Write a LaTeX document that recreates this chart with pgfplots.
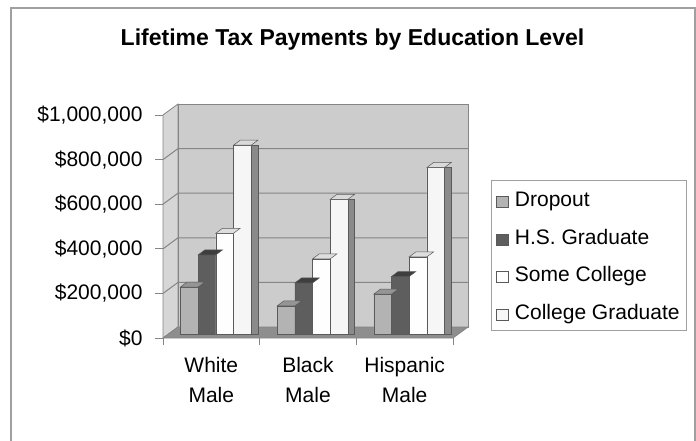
\documentclass[border=0pt]{standalone}
\usepackage{pgfplots}
\pgfplotsset{compat=1.18}
\usepackage{pgfplotstable}
\usepackage{fontspec}
\setmainfont{Liberation Sans}

\definecolor{backwall}{HTML}{CCCCCC}
\definecolor{sidewall}{HTML}{D6D6D6}
\definecolor{floorc}{HTML}{8E8E8E}
\definecolor{gridc}{HTML}{858585}
\definecolor{edgec}{HTML}{5A5A5A}
\definecolor{framec}{HTML}{A0A0A0}
\definecolor{dropc}{HTML}{B3B3B3}
\definecolor{drops}{HTML}{707070}
\definecolor{dropt}{HTML}{959595}
\definecolor{hsc}{HTML}{5E5E5E}
\definecolor{hss}{HTML}{363636}
\definecolor{hst}{HTML}{3E3E3E}
\definecolor{somec}{HTML}{FEFEFE}
\definecolor{somes}{HTML}{8E8E8E}
\definecolor{somet}{HTML}{DEDEDE}
\definecolor{collc}{HTML}{F6F6F6}
\definecolor{colls}{HTML}{8A8A8A}
\definecolor{collt}{HTML}{DADADA}

\pgfplotstableread{
cat drop hs some coll
0 213000 357000 454000 849000
1 128000 231000 339000 606000
2 181000 260000 348000 749000
}\datatable

\pgfdeclareplotmark{topface}{%
  \pgfpathmoveto{\pgfqpoint{-8.85pt}{0pt}}%
  \pgfpathlineto{\pgfqpoint{8.85pt}{0pt}}%
  \pgfpathlineto{\pgfqpoint{15.55pt}{5pt}}%
  \pgfpathlineto{\pgfqpoint{-2.15pt}{5pt}}%
  \pgfpathclose
  \pgfusepathqfillstroke}

\begin{document}
\begin{tikzpicture}
\path[use as bounding box] (0pt,0pt) rectangle (696pt,440pt);
\draw[framec, line width=1.4pt] (11pt,-20pt) -- (11pt,432pt) -- (695pt,432pt) -- (695pt,-20pt);
\node[font=\bfseries\fontsize{23}{27}\selectfont, anchor=base] at (352.5pt,394pt) {Lifetime Tax Payments by Education Level};
\begin{axis}[
  at={(163pt,102pt)}, anchor=south west,
  scale only axis, width=290pt, height=223pt,
  xmin=-0.5, xmax=2.5, ymin=0, ymax=1000000,
  clip=false,
  axis line style={draw=none},
  tick pos=left, tick align=outside,
  major tick length=8pt, minor tick length=7pt,
  tick style={draw=gridc, line width=0.8pt},
  major x tick style={draw=none},
  xtick={0,1,2},
  xticklabels={{White\\Male},{Black\\Male},{Hispanic\\Male}},
  minor xtick={-0.5,0.5,1.5,2.5},
  ytick={0,200000,400000,600000,800000,1000000},
  yticklabels={{\$0},{\$200,000},{\$400,000},{\$600,000},{\$800,000},{\$1,000,000}},
  scaled y ticks=false,
  yticklabel style={font=\fontsize{21}{25}\selectfont, xshift=-9pt},
  xticklabel style={align=center, font=\fontsize{21}{30}\selectfont, yshift=-8pt},
  legend image code/.code={\draw[#1] (0pt,-8pt) rectangle (12pt,3pt);},
  legend cell align=left,
  legend style={draw=framec, line width=1pt, font=\fontsize{21}{25}\selectfont,
    at={(1.131,0.7072)}, anchor=north west, inner xsep=5pt, inner ysep=5pt,
    row sep=10pt, nodes={inner sep=2pt, text height=19pt, text depth=4.5pt},
    /tikz/every odd column/.append style={column sep=4pt}},
]
% walls and floor
\fill[sidewall, draw=gridc, line width=0.8pt] (axis cs:-0.5,0) -- (axis cs:-0.5,1000000) -- ([shift={(15pt,11pt)}]axis cs:-0.5,1000000) -- ([shift={(15pt,11pt)}]axis cs:-0.5,0) -- cycle;
\fill[backwall, draw=gridc, line width=0.8pt] ([shift={(15pt,11pt)}]axis cs:-0.5,0) rectangle ([shift={(15pt,11pt)}]axis cs:2.5,1000000);
\draw[gridc, line width=1pt] (axis cs:-0.5,200000) -- ([shift={(15pt,11pt)}]axis cs:-0.5,200000) -- ([shift={(15pt,11pt)}]axis cs:2.5,200000);
\draw[gridc, line width=1pt] (axis cs:-0.5,400000) -- ([shift={(15pt,11pt)}]axis cs:-0.5,400000) -- ([shift={(15pt,11pt)}]axis cs:2.5,400000);
\draw[gridc, line width=1pt] (axis cs:-0.5,600000) -- ([shift={(15pt,11pt)}]axis cs:-0.5,600000) -- ([shift={(15pt,11pt)}]axis cs:2.5,600000);
\draw[gridc, line width=1pt] (axis cs:-0.5,800000) -- ([shift={(15pt,11pt)}]axis cs:-0.5,800000) -- ([shift={(15pt,11pt)}]axis cs:2.5,800000);
\fill[floorc, draw=gridc, line width=0.8pt] (axis cs:-0.5,0) -- (axis cs:2.5,0) -- ([shift={(15pt,11pt)}]axis cs:2.5,0) -- ([shift={(15pt,11pt)}]axis cs:-0.5,0) -- cycle;

% Dropout
\addplot[ybar, forget plot, bar width=6.7pt, bar shift=-14.35pt, xshift=4.5pt, yshift=3.5pt, fill=drops, draw=edgec, line width=0.5pt] table[x=cat,y=drop]{\datatable};
\addplot[ybar, forget plot, bar width=17.7pt, bar shift=-26.55pt, xshift=4.5pt, yshift=3.5pt, fill=dropc, draw=edgec, line width=0.5pt] table[x=cat,y=drop]{\datatable};
\addplot[only marks, forget plot, mark=topface, xshift=-22.05pt, yshift=3.5pt, mark options={fill=dropt, draw=edgec, line width=0.5pt}] table[x=cat,y=drop]{\datatable};
% HS Graduate
\addplot[ybar, forget plot, bar width=6.7pt, bar shift=3.35pt, xshift=4.5pt, yshift=3.5pt, fill=hss, draw=edgec, line width=0.5pt] table[x=cat,y=hs]{\datatable};
\addplot[ybar, forget plot, bar width=17.7pt, bar shift=-8.85pt, xshift=4.5pt, yshift=3.5pt, fill=hsc, draw=edgec, line width=0.5pt] table[x=cat,y=hs]{\datatable};
\addplot[only marks, forget plot, mark=topface, xshift=-4.35pt, yshift=3.5pt, mark options={fill=hst, draw=edgec, line width=0.5pt}] table[x=cat,y=hs]{\datatable};
% Some College
\addplot[ybar, forget plot, bar width=6.7pt, bar shift=21.05pt, xshift=4.5pt, yshift=3.5pt, fill=somes, draw=edgec, line width=0.5pt] table[x=cat,y=some]{\datatable};
\addplot[ybar, forget plot, bar width=17.7pt, bar shift=8.85pt, xshift=4.5pt, yshift=3.5pt, fill=somec, draw=edgec, line width=0.5pt] table[x=cat,y=some]{\datatable};
\addplot[only marks, forget plot, mark=topface, xshift=13.35pt, yshift=3.5pt, mark options={fill=somet, draw=edgec, line width=0.5pt}] table[x=cat,y=some]{\datatable};
% College Graduate
\addplot[ybar, forget plot, bar width=6.7pt, bar shift=38.75pt, xshift=4.5pt, yshift=3.5pt, fill=colls, draw=edgec, line width=0.5pt] table[x=cat,y=coll]{\datatable};
\addplot[ybar, forget plot, bar width=17.7pt, bar shift=26.55pt, xshift=4.5pt, yshift=3.5pt, fill=collc, draw=edgec, line width=0.5pt] table[x=cat,y=coll]{\datatable};
\addplot[only marks, forget plot, mark=topface, xshift=31.05pt, yshift=3.5pt, mark options={fill=collt, draw=edgec, line width=0.5pt}] table[x=cat,y=coll]{\datatable};

\addlegendimage{fill=dropc, draw=edgec, line width=0.5pt}
\addlegendentry{Dropout}
\addlegendimage{fill=hsc, draw=edgec, line width=0.5pt}
\addlegendentry{H.S. Graduate}
\addlegendimage{fill=somec, draw=edgec, line width=0.5pt}
\addlegendentry{Some College}
\addlegendimage{fill=collc, draw=edgec, line width=0.5pt}
\addlegendentry{College Graduate}
\end{axis}
\end{tikzpicture}
\end{document}
